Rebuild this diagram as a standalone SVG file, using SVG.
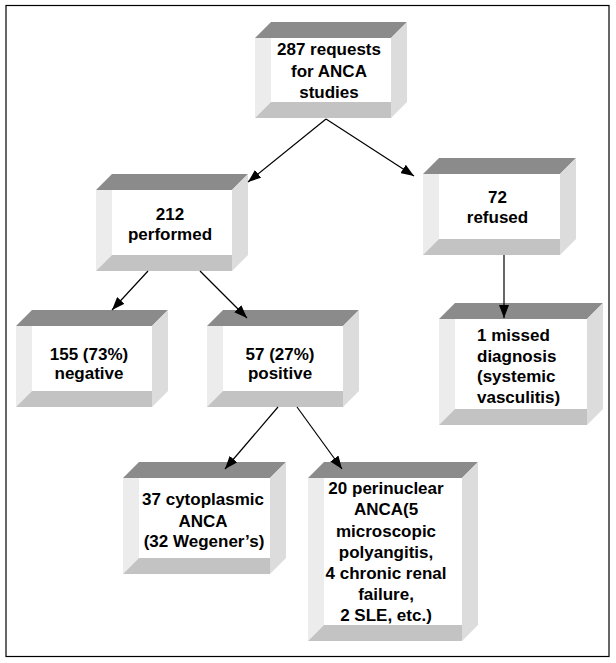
<svg xmlns="http://www.w3.org/2000/svg" width="616" height="663" viewBox="0 0 616 663">
<style>
.top{fill:#8b8b8b}
.rs{fill:#dcdcdc}
.ls{fill:#ececec}
.bs{fill:#c3c3c3}
.fr{fill:#ffffff}
text{font-family:"Liberation Sans",Arial,sans-serif;font-size:17px;font-weight:bold;fill:#000}
.c{text-anchor:middle}
.conn line{stroke:#000;stroke-width:1.2;marker-end:url(#ah)}
</style>
<defs>
<marker id="ah" markerUnits="userSpaceOnUse" markerWidth="14" markerHeight="10" refX="13" refY="5" orient="auto">
<path d="M0,0 L13,5 L0,10 z" fill="#000"/>
</marker>
</defs>
<rect x="0" y="0" width="616" height="663" fill="#fff"/>
<rect x="6" y="5.5" width="603" height="651" fill="none" stroke="#000" stroke-width="1.2"/>

<g id="n287">
<polygon class="top" points="255,38 271,22 407,22 391,38"/>
<polygon class="rs" points="391,38 407,22 407,102 391,118"/>
<rect class="fr" x="255" y="38" width="136" height="80"/>
<polygon class="ls" points="255,38 271,38 271,102 255,118"/>
<polygon class="bs" points="255,118 271,102 391,102 391,118"/>
<text class="c" x="329" y="55">287 requests</text>
<text class="c" x="329" y="77">for ANCA</text>
<text class="c" x="329" y="98">studies</text>
</g>

<g id="n212">
<polygon class="top" points="96,190 112,174 248,174 232,190"/>
<polygon class="rs" points="232,190 248,174 248,255 232,271"/>
<rect class="fr" x="96" y="190" width="136" height="81"/>
<polygon class="ls" points="96,190 112,190 112,255 96,271"/>
<polygon class="bs" points="96,271 112,255 232,255 232,271"/>
<text class="c" x="170" y="220">212</text>
<text class="c" x="170" y="240">performed</text>
</g>

<g id="n72">
<polygon class="top" points="423,174 439,158 576,158 560,174"/>
<polygon class="rs" points="560,174 576,158 576,239 560,255"/>
<rect class="fr" x="423" y="174" width="137" height="81"/>
<polygon class="ls" points="423,174 439,174 439,239 423,255"/>
<polygon class="bs" points="423,255 439,239 560,239 560,255"/>
<text class="c" x="497.5" y="203">72</text>
<text class="c" x="497.5" y="223">refused</text>
</g>

<g id="n155">
<polygon class="top" points="16,326 32,310 168,310 152,326"/>
<polygon class="rs" points="152,326 168,310 168,391 152,407"/>
<rect class="fr" x="16" y="326" width="136" height="81"/>
<polygon class="ls" points="16,326 32,326 32,391 16,407"/>
<polygon class="bs" points="16,407 32,391 152,391 152,407"/>
<text class="c" x="89" y="360">155 (73%)</text>
<text class="c" x="89" y="379">negative</text>
</g>

<g id="n57">
<polygon class="top" points="207,326 223,310 359,310 343,326"/>
<polygon class="rs" points="343,326 359,310 359,391 343,407"/>
<rect class="fr" x="207" y="326" width="136" height="81"/>
<polygon class="ls" points="207,326 223,326 223,391 207,407"/>
<polygon class="bs" points="207,407 223,391 343,391 343,407"/>
<text class="c" x="280" y="360">57 (27%)</text>
<text class="c" x="280" y="379">positive</text>
</g>

<g id="nmissed">
<polygon class="top" points="439,319 455,303 603,303 587,319"/>
<polygon class="rs" points="587,319 603,303 603,409 587,425"/>
<rect class="fr" x="439" y="319" width="148" height="106"/>
<polygon class="ls" points="439,319 455,319 455,409 439,425"/>
<polygon class="bs" points="439,425 455,409 587,409 587,425"/>
<text x="477" y="341">1 missed</text>
<text x="477" y="362">diagnosis</text>
<text x="477" y="382">(systemic</text>
<text x="477" y="403">vasculitis)</text>
</g>

<g id="n37">
<polygon class="top" points="123,478 139,462 286,462 270,478"/>
<polygon class="rs" points="270,478 286,462 286,558 270,574"/>
<rect class="fr" x="123" y="478" width="147" height="96"/>
<polygon class="ls" points="123,478 139,478 139,558 123,574"/>
<polygon class="bs" points="123,574 139,558 270,558 270,574"/>
<text class="c" x="203" y="505">37 cytoplasmic</text>
<text class="c" x="203" y="527">ANCA</text>
<text class="c" x="204" y="547">(32 Wegener’s)</text>
</g>

<g id="n20">
<polygon class="top" points="308,478 324,462 478,462 462,478"/>
<polygon class="rs" points="462,478 478,462 478,625 462,641"/>
<rect class="fr" x="308" y="478" width="154" height="163"/>
<polygon class="ls" points="308,478 324,478 324,625 308,641"/>
<polygon class="bs" points="308,641 324,625 462,625 462,641"/>
<text class="c" x="386" y="494">20 perinuclear</text>
<text class="c" x="386" y="515">ANCA(5</text>
<text class="c" x="386" y="536.5">microscopic</text>
<text class="c" x="386" y="558">polyangitis,</text>
<text class="c" x="386" y="579">4 chronic renal</text>
<text class="c" x="386" y="600">failure,</text>
<text class="c" x="386" y="621">2 SLE, etc.)</text>
</g>

<g id="connectors" class="conn">
<line x1="326" y1="119" x2="248" y2="182"/>
<line x1="326" y1="119" x2="414" y2="176"/>
<line x1="148" y1="271" x2="112" y2="310"/>
<line x1="200" y1="271" x2="247" y2="318"/>
<line x1="504" y1="255" x2="504" y2="318"/>
<line x1="278" y1="407" x2="225" y2="469"/>
<line x1="297" y1="407" x2="342" y2="469"/>
</g>
</svg>
